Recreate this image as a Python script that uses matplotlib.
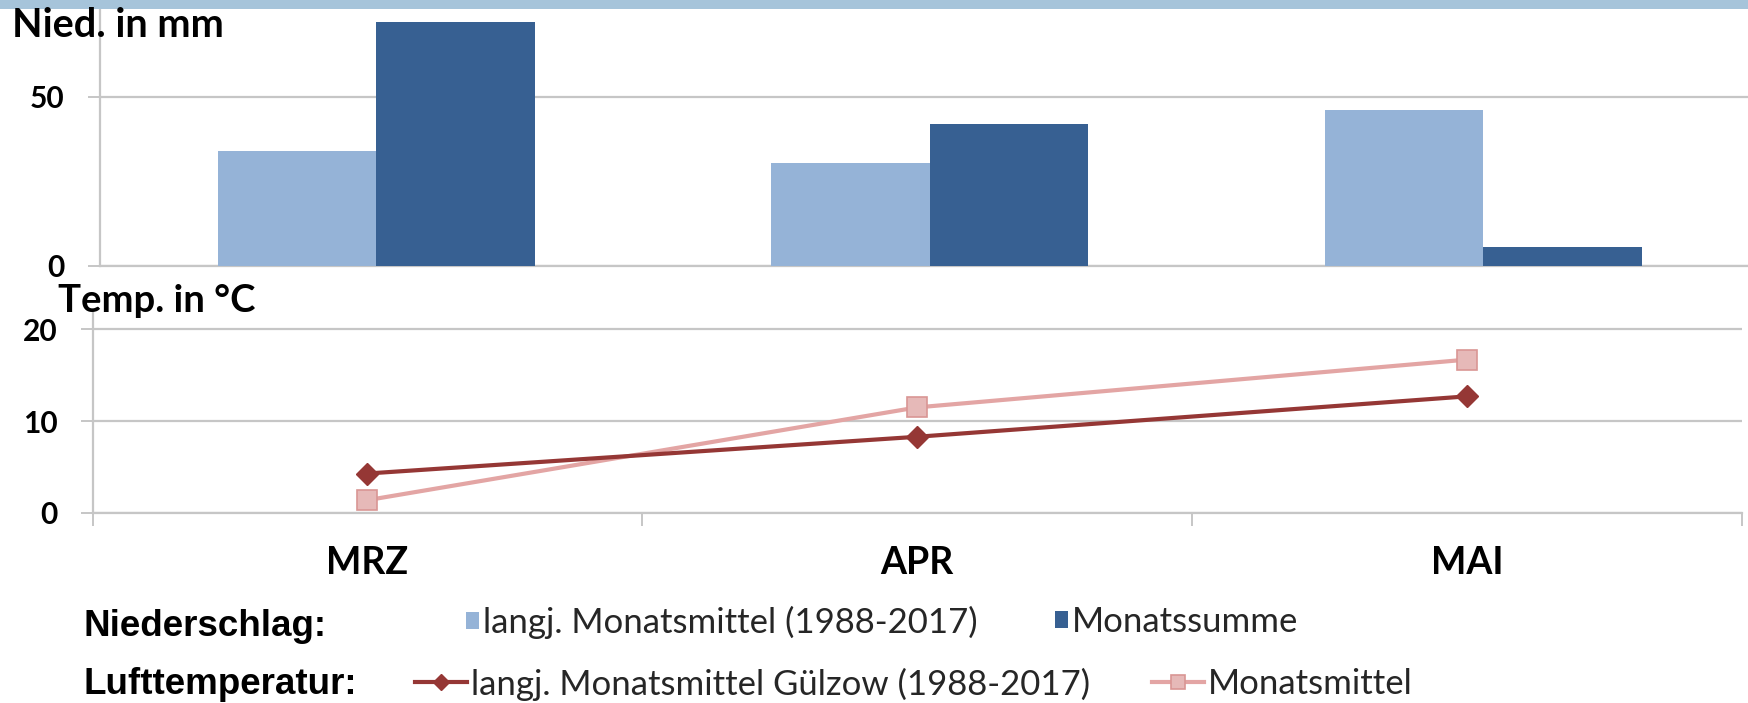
import matplotlib
matplotlib.use("Agg")
import matplotlib.pyplot as plt
from matplotlib.patches import Rectangle

# ---- data ----
months = ["MRZ", "APR", "MAI"]
precip_longterm = [33.8, 30.3, 46.1]      # langj. Monatsmittel (1988-2017)
precip_sum = [72.0, 41.9, 5.4]            # Monatssumme
temp_longterm = [4.3, 8.3, 12.7]          # langj. Monatsmittel Gülzow (1988-2017)
temp_month = [1.4, 11.5, 16.7]            # Monatsmittel
precip_ticks = [0, 50]
temp_ticks = [0, 10, 20]

label_precip_lt = "langj. Monatsmittel (1988-2017)"
label_precip_sum = "Monatssumme"
label_temp_lt = "langj. Monatsmittel Gülzow (1988-2017)"
label_temp_m = "Monatsmittel"

# ---- style ----
C_LIGHT = "#95B3D7"
C_DARK = "#376092"
C_RED = "#953735"
C_PINK = "#E3A5A4"
C_PINK_FILL = "#E6B9B8"
C_PINK_EDGE = "#D99694"
C_GRID = "#C6C6C6"
C_BAND = "#A6C4DA"
FONT = "Lato"

W, H = 1748, 703
fig = plt.figure(figsize=(W / 100, H / 100), dpi=100)

def fx(px):
    return px / W

def fy(py):
    return (H - py) / H

# top band
fig.patches.append(Rectangle((0, fy(9)), 1, 1 - fy(9), transform=fig.transFigure,
                             facecolor=C_BAND, edgecolor="none", zorder=0))

x = list(range(len(months)))
bw = 0.286

# ---- precipitation axes ----
ax1 = fig.add_axes([fx(99.5), fy(265.5), fx(1760 - 99.5), fy(10) - fy(265.5)])
ax1.set_facecolor("none")
ax1.bar([i - bw / 2 for i in x], precip_longterm, width=bw, color=C_LIGHT, zorder=3,
        label=label_precip_lt)
ax1.bar([i + bw / 2 for i in x], precip_sum, width=bw, color=C_DARK, zorder=3,
        label=label_precip_sum)
ax1.set_xlim(-0.5, 2.5)
ax1.set_ylim(0, 75.6)
ax1.set_yticks(precip_ticks)
ax1.set_xticks([])
ax1.yaxis.grid(True, color=C_GRID, linewidth=1.6, zorder=0)
ax1.set_axisbelow(True)
for s in ["top", "right"]:
    ax1.spines[s].set_visible(False)
for s in ["left", "bottom"]:
    ax1.spines[s].set_color(C_GRID)
    ax1.spines[s].set_linewidth(1.6)
ax1.tick_params(axis="y", length=9, width=1.4, color=C_GRID, pad=16)
for t in ax1.get_yticklabels():
    t.set_fontfamily(FONT)
    t.set_fontweight("bold")
    t.set_fontsize(21.5)

# ---- temperature axes ----
ax2 = fig.add_axes([fx(92.5), fy(513), fx(1742 - 92.5), fy(310) - fy(513)])
ax2.set_facecolor("none")
ax2.plot(x, temp_longterm, color=C_RED, linewidth=3, marker="D", markersize=11,
         markerfacecolor=C_RED, markeredgecolor=C_RED, zorder=4, label=label_temp_lt)
ax2.plot(x, temp_month, color=C_PINK, linewidth=3, marker="s", markersize=14,
         markerfacecolor=C_PINK_FILL, markeredgecolor=C_PINK_EDGE, markeredgewidth=1.2,
         zorder=3, label=label_temp_m)
ax2.set_xlim(-0.5, 2.5)
ax2.set_ylim(0, 22.1)
ax2.set_yticks(temp_ticks)
ax2.set_xticks(x)
ax2.set_xticklabels(months)
ax2.set_xticks([-0.5, 0.5, 1.5, 2.5], minor=True)
ax2.tick_params(axis="x", which="major", length=0, pad=24)
ax2.tick_params(axis="x", which="minor", length=9, width=1.4, color=C_GRID)
ax2.yaxis.grid(True, color=C_GRID, linewidth=1.6, zorder=0)
ax2.set_axisbelow(True)
for s in ["top", "right"]:
    ax2.spines[s].set_visible(False)
for s in ["left", "bottom"]:
    ax2.spines[s].set_color(C_GRID)
    ax2.spines[s].set_linewidth(1.6)
ax2.tick_params(axis="y", length=9, width=1.4, color=C_GRID, pad=16)
for t in ax2.get_yticklabels():
    t.set_fontfamily(FONT)
    t.set_fontweight("bold")
    t.set_fontsize(21.5)
for t in ax2.get_xticklabels():
    t.set_fontfamily(FONT)
    t.set_fontweight("bold")
    t.set_fontsize(27)

# axis titles
fig.text(fx(12), fy(37), "Nied. in mm", fontfamily=FONT, fontweight="bold",
         fontsize=28.5, ha="left", va="baseline")
fig.text(fx(58), fy(312), "Temp. in °C", fontfamily=FONT, fontweight="bold",
         fontsize=27.5, ha="left", va="baseline")

# ---- legends ----
fig.text(fx(84), fy(627), "Niederschlag:", fontfamily="Liberation Sans",
         fontweight="bold", fontsize=26.5, ha="left", va="center")
fig.text(fx(84), fy(684), "Lufttemperatur:", fontfamily="Liberation Sans",
         fontweight="bold", fontsize=26.5, ha="left", va="center")

bars_h, bars_l = ax1.get_legend_handles_labels()
lines_h, lines_l = ax2.get_legend_handles_labels()

def place_legend(handle, label, x_px, y_px, hl, hh=0.7, ms=1.0):
    lg = fig.legend([handle], [label], loc="center left",
                    bbox_to_anchor=(fx(x_px), fy(y_px)), bbox_transform=fig.transFigure,
                    frameon=False, borderpad=0, borderaxespad=0,
                    handlelength=hl, handleheight=hh, handletextpad=0.12,
                    markerscale=ms, prop={"family": FONT, "size": 25})
    for t in lg.get_texts():
        t.set_color("#262626")
    return lg

place_legend(bars_h[0], bars_l[0], 466, 622, 0.38, 0.38)
place_legend(bars_h[1], bars_l[1], 1055, 622, 0.38, 0.38)
place_legend(lines_h[0], lines_l[0], 415, 684, 1.5, ms=0.75)
place_legend(lines_h[1], lines_l[1], 1152, 684, 1.5, ms=0.75)

fig.savefig("out.png", dpi=100, facecolor="white")
